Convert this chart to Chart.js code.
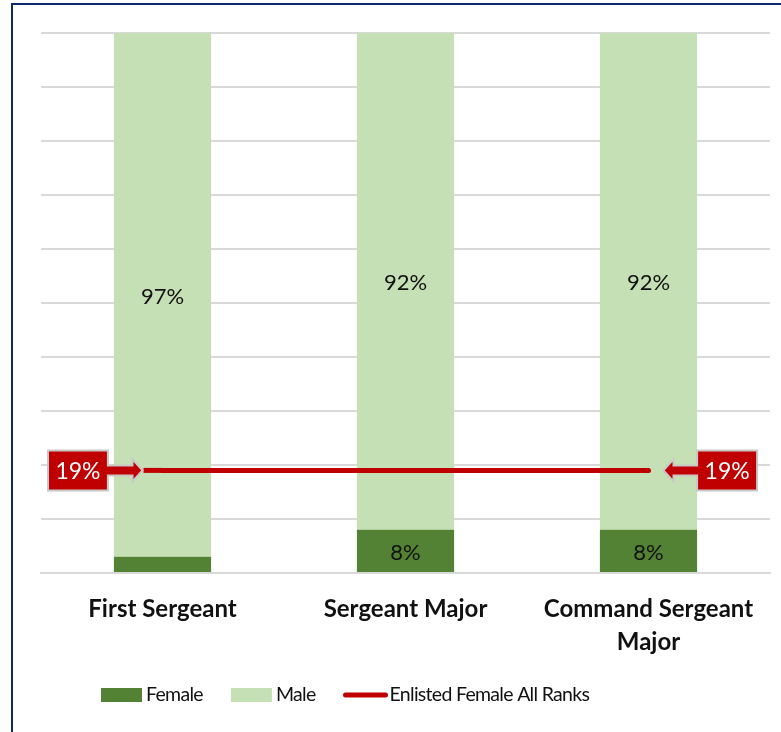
<!DOCTYPE html>
<html>
<head>
<meta charset="utf-8">
<script src="https://cdn.jsdelivr.net/npm/chart.js@4.4.0/dist/chart.umd.min.js"></script>
<style>
  html, body { margin: 0; padding: 0; background: #fff; }
</style>
</head>
<body>
<canvas id="chart" width="781" height="732"></canvas>
<script>
// data
const categories = ['First Sergeant', 'Sergeant Major', ['Command Sergeant', 'Major']];
const femalePct = [3, 8, 8];
const malePct = [97, 92, 92];
const enlistedFemaleAll = [19, 19, 19];
const seriesNames = ['Female', 'Male', 'Enlisted Female All Ranks'];

const FEMALE = '#548235';
const MALE = '#c5e0b4';
const RED = '#c00000';
const FONT = 'Lato, Carlito, "Noto Sans", sans-serif';

// draws one callout box with an arrow pointing at tipX
function drawCallout(ctx, boxNear, boxFar, cy, tipX, text) {
  const dir = tipX > boxNear ? 1 : -1;
  const headBase = tipX - dir * 10;
  ctx.save();
  ctx.beginPath();
  ctx.moveTo(boxFar, cy - 20);
  ctx.lineTo(boxNear, cy - 20);
  ctx.lineTo(boxNear, cy - 5);
  ctx.lineTo(headBase, cy - 5);
  ctx.lineTo(headBase, cy - 11);
  ctx.lineTo(tipX, cy);
  ctx.lineTo(headBase, cy + 11);
  ctx.lineTo(headBase, cy + 5);
  ctx.lineTo(boxNear, cy + 5);
  ctx.lineTo(boxNear, cy + 20);
  ctx.lineTo(boxFar, cy + 20);
  ctx.closePath();
  ctx.fillStyle = RED;
  ctx.fill();
  ctx.lineWidth = 2;
  ctx.strokeStyle = '#c8c8c8';
  ctx.stroke();
  ctx.fillStyle = '#fff';
  ctx.font = '23px ' + FONT;
  ctx.textAlign = 'center';
  ctx.textBaseline = 'middle';
  ctx.fillText(text, (boxNear + boxFar) / 2, cy + 1);
  ctx.restore();
}

const overlayPlugin = {
  id: 'overlay',
  beforeDraw(chart) {
    const ctx = chart.ctx;
    ctx.save();
    ctx.strokeStyle = '#0d2a6b';
    ctx.lineWidth = 2;
    ctx.strokeRect(12, 4, 900, 900);
    ctx.restore();
  },
  afterDatasetsDraw(chart) {
    const ctx = chart.ctx;
    const area = chart.chartArea;
    const yScale = chart.scales.y;

    // value labels inside bars
    ctx.save();
    ctx.fillStyle = '#111';
    ctx.font = '22px ' + FONT;
    ctx.textAlign = 'center';
    ctx.textBaseline = 'middle';
    [0, 1].forEach(di => {
      const meta = chart.getDatasetMeta(di);
      meta.data.forEach((bar, i) => {
        const v = chart.data.datasets[di].data[i];
        if (v < 5) return;
        ctx.fillText(v + '%', bar.x, (bar.y + bar.base) / 2 + 2);
      });
    });
    ctx.restore();

    // callouts for the all-ranks line
    const lineMeta = chart.getDatasetMeta(2);
    const first = lineMeta.data[0];
    const last = lineMeta.data[lineMeta.data.length - 1];
    const cy = yScale.getPixelForValue(enlistedFemaleAll[0]);
    const barMeta = chart.getDatasetMeta(1);
    const bar0 = barMeta.data[0];
    const barN = barMeta.data[barMeta.data.length - 1];
    const leftTip = first.x - 20;

    ctx.save();
    ctx.strokeStyle = RED;
    ctx.lineWidth = 5;
    ctx.beginPath();
    ctx.moveTo(leftTip + 1, cy);
    ctx.lineTo(first.x, cy);
    ctx.stroke();
    ctx.restore();

    const label = enlistedFemaleAll[0] + '%';
    drawCallout(ctx, bar0.x - bar0.width / 2 - 6, area.left + 7, cy, leftTip, label);
    const rightNear = barN.x + barN.width / 2;
    drawCallout(ctx, rightNear, rightNear + 60, cy, last.x + 15, label);

    // legend
    ctx.save();
    ctx.font = '19.5px ' + FONT;
    ctx.letterSpacing = '-0.7px';
    ctx.textBaseline = 'middle';
    ctx.textAlign = 'left';
    const ly = 695;
    let x = 101;
    chart.data.datasets.forEach((ds) => {
      if (ds.type === 'line') {
        ctx.strokeStyle = ds.borderColor;
        ctx.lineWidth = 5;
        ctx.lineCap = 'round';
        ctx.beginPath();
        ctx.moveTo(x + 2, ly);
        ctx.lineTo(x + 42, ly);
        ctx.stroke();
      } else {
        ctx.fillStyle = ds.backgroundColor;
        ctx.fillRect(x, ly - 7, 41, 14);
      }
      ctx.fillStyle = '#111';
      const tx = ds.type === 'line' ? x + 46 : x + 45;
      ctx.fillText(ds.label, tx, ly);
      x = tx + ctx.measureText(ds.label).width + 28;
    });
    ctx.restore();
  }
};

new Chart(document.getElementById('chart'), {
  type: 'bar',
  data: {
    labels: categories,
    datasets: [
      {
        label: seriesNames[0],
        data: femalePct,
        backgroundColor: FEMALE,
        stack: 'rank',
        categoryPercentage: 1,
        barPercentage: 0.4,
        order: 2
      },
      {
        label: seriesNames[1],
        data: malePct,
        backgroundColor: MALE,
        stack: 'rank',
        categoryPercentage: 1,
        barPercentage: 0.4,
        order: 2
      },
      {
        type: 'line',
        label: seriesNames[2],
        data: enlistedFemaleAll,
        borderColor: RED,
        backgroundColor: RED,
        borderWidth: 5,
        borderCapStyle: 'round',
        pointRadius: 0,
        stack: 'line',
        order: 1
      }
    ]
  },
  options: {
    responsive: false,
    animation: false,
    layout: { padding: { left: 41, right: 11, top: 33, bottom: 0 } },
    plugins: {
      legend: { display: false },
      tooltip: { enabled: false }
    },
    scales: {
      x: {
        stacked: true,
        grid: { display: false },
        border: { color: '#d9d9d9', width: 2 },
        ticks: {
          color: '#111',
          font: { family: FONT, size: 24, weight: 'bold', lineHeight: 1.38 },
          padding: 12,
          maxRotation: 0,
          autoSkip: false
        },
        afterFit(scale) { scale.height = 159; }
      },
      y: {
        stacked: true,
        min: 0,
        max: 100,
        ticks: { display: false, stepSize: 10 },
        grid: { color: '#d9d9d9', lineWidth: 2, drawTicks: false },
        border: { display: false },
        afterFit(scale) { scale.width = 0; }
      }
    }
  },
  plugins: [overlayPlugin]
});
</script>
</body>
</html>
